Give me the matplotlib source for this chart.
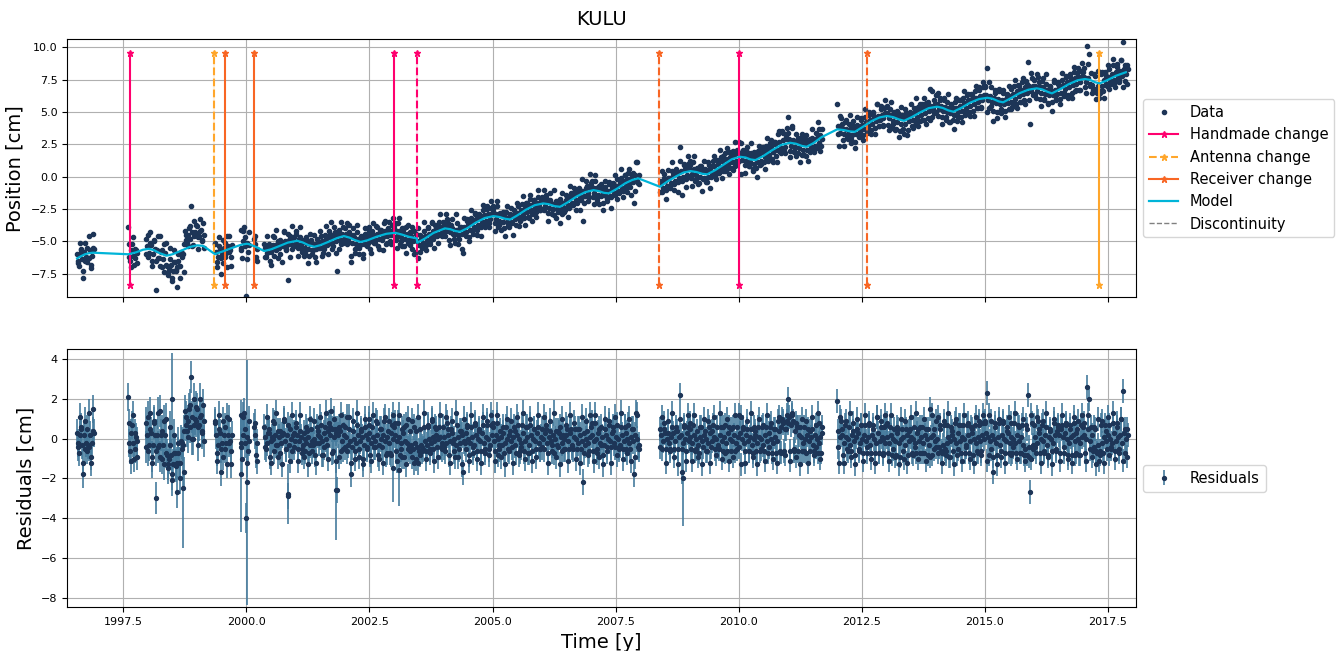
import matplotlib.pyplot as plt
import numpy as np

# KULU station: position time series, model and residuals

# Observation segments (first epoch of each block). Three interleaved sets of
# epochs are used, every 0.04 y, shifted by 0.00, 0.02 and 0.01 y.
seg_start = [1996.56, 1997.60, 1997.96, 1999.36, 1999.88, 2000.16, 2000.36, 2008.40, 2012.00]
step = 0.04
shift_b = 0.02
shift_c = 0.01

# Position [cm]
pos_s1 = [-6.0, -6.9, -5.6, -7.8, -6.5, -5.5, -6.3, -7.1, -4.4]
pos_s2 = [-3.9, -6.5, -5.2, -6.8, -5.7]
pos_s3 = [-4.8, -6.2, -4.3, -6.5, -5.0, -8.8, -6.3, -4.6, -7.0, -5.2, -6.8, -7.4, -5.5, -7.8, -6.6,
          -7.2, -8.5, -6.9, -5.8, -6.0, -4.2, -5.1, -4.0, -2.3, -5.3, -4.3, -3.8, -4.6, -4.1, -3.6]
pos_s4 = [-5.1, -6.6, -5.4, -7.5, -4.9, -6.2, -4.6, -5.8, -6.9]
pos_s5 = [-4.1, -6.3, -3.9, -9.2, -5.8]
pos_s6 = [-4.8, -6.2]
pos_s7 = [-5.2, -6.2, -5.4, -6.5, -5.4, -4.7, -5.7, -5.0, -6.0, -5.1, -4.3, -5.6, -8.0, -4.6, -5.6, -4.7,
          -4.4, -5.5, -4.7, -5.8, -4.9, -5.9, -5.0, -6.1, -4.9, -5.7, -6.2, -4.8, -5.5, -4.6, -5.9, -4.5, -5.3, -4.2, -3.5, -5.4, -4.3, -7.3, -4.1, -5.2, -3.9,
          -4.0, -5.2, -3.7, -6.6, -4.5, -5.9, -4.3, -5.5, -4.6, -6.0, -4.4, -5.3, -3.9, -5.6, -4.2, -5.1, -3.8, -5.4, -4.1, -4.9, -3.6, -5.2, -4.0, -5.0, -3.7,
          -3.8, -4.9, -3.6, -5.2, -4.0, -5.4, -3.9, -5.1, -4.3, -5.6, -4.2, -5.8, -6.3, -4.5, -5.5, -4.2, -5.3, -3.9, -5.0, -3.6, -4.8, -3.7, -4.6, -3.5, -4.4,
          -3.5, -4.6, -3.3, -4.9, -3.7, -4.4, -5.1, -3.6, -4.8, -3.9, -5.9, -4.3, -3.4, -4.7, -3.2, -4.4, -2.9, -4.1, -3.0, -3.9, -2.6, -3.7, -2.5, -3.6, -2.4,
          -2.5, -3.6, -2.3, -3.9, -2.8, -3.5, -4.0, -2.7, -3.8, -2.9, -3.6, -2.6, -3.7, -2.3, -3.4, -2.1, -3.2, -2.0, -3.1, -1.7, -2.9, -1.8, -2.7, -1.6, -2.6,
          -1.6, -2.6, -1.4, -2.8, -1.8, -2.5, -3.0, -1.9, -2.7, -1.7, -2.9, -2.0, -2.6, -1.5, -2.4, -1.3, -2.2, -1.1, -2.0, -0.9, -1.8, -3.4, -1.5, -0.7, -1.6,
          -0.5, -1.6, -0.3, -1.8, -0.7, -1.5, -2.0, -0.8, -1.7, -0.6, -1.6, -0.5, -1.4, -0.2, -1.3, -0.1, -1.1, 0.1, -0.9, 0.3, -0.8, 0.2, -2.0, 1.1, -0.5]
pos_s8 = [-0.3, -1.2, 0.2, -1.0, -0.1, -0.8, 0.4, -0.6, 0.6, -0.4, 2.3, -1.4, 0.9, -0.2, 1.0,
          0.9, -0.1, 1.1, -0.3, 0.7, -0.5, 0.8, -0.2, 0.6, -0.4, 0.9, 0.0, 1.2, 0.1, 1.3, 0.3, 1.5, 0.4, 1.8, 0.6, 1.9, 0.7, 2.0, 0.8, 2.1,
          2.7, 0.2, 2.1, 0.9, 1.9, 0.8, 1.8, 0.6, 1.9, 0.7, 2.0, 0.9, 2.2, 1.1, 2.4, 1.2, 2.6, 1.4, 2.7, 1.6, 3.3, 1.9, 3.5, 2.0, 3.1,
          4.6, 2.0, 3.9, 1.9, 3.3, 1.8, 3.0, 1.7, 2.9, 1.6, 2.8, 1.9, 3.0, 2.1, 3.4, 2.2, 3.7, 2.4]
pos_s9 = [5.6, 2.4, 4.5, 2.8, 4.2, 3.0, 4.1, 2.9, 4.3, 2.7, 4.0, 3.1, 4.4, 3.2, 4.6, 3.4, 4.8, 3.6, 5.0, 3.8, 5.6, 3.9, 5.2, 4.0, 5.3,
          5.4, 4.0, 5.2, 3.8, 5.0, 3.7, 4.9, 3.5, 4.8, 3.3, 4.9, 3.6, 5.0, 3.9, 5.3, 4.1, 5.4, 4.3, 5.6, 4.4, 5.7, 4.5, 6.8, 4.6, 5.9,
          6.3, 4.7, 6.1, 4.6, 5.9, 4.4, 5.8, 4.2, 5.6, 4.4, 5.8, 4.3, 5.9, 4.6, 6.1, 4.8, 6.3, 5.0, 6.4, 5.1, 6.6, 5.3, 6.7, 5.4, 6.9,
          7.0, 8.4, 5.3, 6.9, 4.3, 6.7, 5.0, 6.6, 4.9, 6.5, 5.1, 6.4, 5.2, 6.8, 5.4, 7.0, 5.6, 7.1, 5.8, 7.3, 5.9, 7.4, 8.9, 4.1, 7.6,
          7.5, 6.1, 7.7, 6.0, 7.4, 5.9, 7.2, 5.7, 7.0, 5.8, 7.3, 5.9, 7.2, 6.0, 7.5, 6.2, 7.7, 6.3, 7.9, 6.5, 8.1, 6.6, 8.0, 6.7, 8.2,
          8.1, 6.9, 10.1, 9.5, 8.0, 6.7, 7.8, 6.5, 6.1, 7.9, 6.6, 8.1, 7.0, 8.3, 7.2, 8.6, 7.3, 8.7, 7.5, 9.0, 10.4, 7.4, 8.6]

pos_s1b = [-6.5, -6.0, -6.4, -5.8, -6.2, -6.3, -5.7, -6.1, -5.6]
pos_s2b = [-6.2, -5.7, -6.1, -5.6, -5.9]
pos_s3b = [-5.4, -5.9, -5.3, -6.0, -5.6, -5.7, -6.3, -5.8, -6.4, -5.9, -6.9, -7.1, -6.8, -7.3, -6.6,
           -7.0, -6.5, -6.9, -5.9, -5.2, -4.9, -4.5, -4.8, -4.3, -4.6, -4.4, -4.7, -4.2, -4.9, -4.5]
pos_s4b = [-5.8, -6.2, -5.6, -6.0, -5.5, -5.9, -5.4, -5.7, -5.3]
pos_s5b = [-5.5, -5.0, -5.4, -5.1, -5.3]
pos_s6b = [-5.2, -5.6]
pos_s7b = [-5.5, -5.9, -5.4, -5.8, -5.3, -5.6, -5.2, -5.5, -5.1, -5.4, -5.0, -5.3, -4.9, -5.2, -4.8, -5.2,
           -5.2, -4.8, -5.3, -5.0, -5.5, -5.1, -5.6, -5.2, -5.7, -5.2, -5.6, -5.1, -5.5, -5.0, -5.4, -4.8, -5.2, -4.7, -5.1, -4.6, -5.0, -4.5, -4.9, -4.4, -4.8,
           -4.4, -4.9, -4.6, -5.1, -4.7, -5.2, -4.8, -5.3, -4.8, -5.2, -4.7, -5.1, -4.6, -5.0, -4.5, -4.9, -4.4, -4.8, -4.3, -4.7, -4.2, -4.6, -4.2, -4.5, -4.1,
           -4.1, -4.6, -4.2, -4.7, -4.3, -4.8, -4.4, -4.9, -4.6, -5.0, -4.9, -5.0, -5.3, -4.8, -5.1, -4.6, -4.9, -4.4, -4.7, -4.2, -4.5, -4.0, -4.4, -3.9, -4.2,
           -3.8, -4.2, -3.9, -4.3, -4.0, -4.4, -4.1, -4.5, -4.0, -4.4, -3.9, -4.3, -3.7, -4.1, -3.5, -3.9, -3.3, -3.7, -3.2, -3.5, -3.0, -3.4, -2.9, -3.3, -2.8,
           -2.8, -3.3, -2.9, -3.4, -3.0, -3.5, -3.1, -3.5, -3.1, -3.5, -3.0, -3.3, -2.8, -3.1, -2.6, -2.9, -2.4, -2.7, -2.2, -2.6, -2.1, -2.4, -2.0, -2.3, -1.9,
           -1.9, -2.3, -1.9, -2.4, -2.0, -2.5, -2.1, -2.5, -2.1, -2.5, -2.0, -2.4, -1.8, -2.2, -1.6, -2.0, -1.4, -1.8, -1.2, -1.6, -1.1, -1.5, -0.9, -1.3, -0.8,
           -0.8, -1.3, -0.9, -1.4, -0.9, -1.4, -1.0, -1.5, -1.1, -1.5, -0.9, -1.3, -0.7, -1.1, -0.5, -0.9, -0.3, -0.7, -0.2, -0.6, -0.1, -0.4, 0.1, -0.3, 0.1]
pos_s8b = [-0.5, -0.9, -0.3, -0.7, -0.1, -0.5, 0.1, -0.3, 0.3, -0.1, 0.4, 0.0, 0.6, 0.1, 0.7,
           0.6, 0.2, 0.6, 0.1, 0.5, 0.0, 0.4, -0.1, 0.4, 0.0, 0.6, 0.2, 0.8, 0.4, 1.0, 0.6, 1.2, 0.8, 1.4, 1.0, 1.5, 1.1, 1.7, 1.2, 1.8,
           1.8, 1.3, 1.7, 1.2, 1.6, 1.1, 1.5, 1.0, 1.5, 1.1, 1.7, 1.2, 1.9, 1.5, 2.1, 1.7, 2.3, 1.9, 2.5, 2.1, 2.7, 2.2, 2.8, 2.3, 2.9,
           2.9, 2.4, 2.8, 2.3, 2.7, 2.2, 2.6, 2.1, 2.5, 2.1, 2.6, 2.3, 2.8, 2.4, 3.0, 2.6, 3.2, 2.9]
pos_s9b = [3.9, 3.4, 3.8, 3.3, 3.7, 3.3, 3.7, 3.2, 3.7, 3.3, 3.8, 3.5, 4.0, 3.7, 4.2, 3.9, 4.4, 4.1, 4.6, 4.3, 4.7, 4.4, 4.8, 4.5, 4.9,
           4.9, 4.5, 4.8, 4.3, 4.7, 4.2, 4.6, 4.1, 4.5, 4.1, 4.6, 4.3, 4.8, 4.4, 5.0, 4.6, 5.2, 4.8, 5.3, 4.9, 5.4, 5.1, 5.5, 5.2, 5.6,
           5.6, 5.2, 5.5, 5.1, 5.4, 5.0, 5.3, 4.9, 5.2, 4.8, 5.3, 5.0, 5.5, 5.1, 5.7, 5.3, 5.9, 5.5, 6.0, 5.6, 6.1, 5.8, 6.2, 5.9, 6.3,
           6.3, 5.9, 6.2, 5.8, 6.1, 5.7, 6.0, 5.6, 5.9, 5.6, 6.0, 5.7, 6.2, 5.8, 6.4, 6.0, 6.6, 6.2, 6.7, 6.4, 6.9, 6.5, 7.0, 6.6, 7.0,
           7.0, 6.6, 7.0, 6.5, 6.9, 6.4, 6.7, 6.3, 6.6, 6.3, 6.7, 6.4, 6.9, 6.5, 7.1, 6.8, 7.3, 6.9, 7.4, 7.1, 7.6, 7.2, 7.7, 7.3, 7.8,
           7.7, 7.3, 7.6, 7.2, 7.1, 6.8, 6.6, 7.0, 6.5, 7.0, 7.5, 7.2, 7.7, 7.4, 7.9, 7.5, 8.1, 7.7, 8.2, 7.8, 8.3, 7.9, 8.3]

pos_s1c = [-6.7, -5.1, -5.7, -7.3, -5.1, -6.6, -4.6, -6.8, -5.5]
pos_s2c = [-5.2, -7.0, -4.7, -6.3, -6.7]
pos_s3c = [-6.0, -4.5, -5.1, -6.9, -4.9, -6.5, -4.6, -6.9, -5.7, -7.4, -5.1, -7.6, -6.4, -8.1, -5.7,
           -7.3, -6.0, -7.8, -6.2, -7.4, -4.5, -5.4, -3.8, -5.4, -3.4, -3.7, -5.6, -3.3, -5.0, -5.5]
pos_s4c = [-5.2, -7.0, -4.7, -6.3, -6.7, -5.1, -7.0, -4.6, -6.2]
pos_s5c = [-5.7, -4.2, -4.7, -6.4, -4.3]
pos_s6c = [-4.6, -6.5]
pos_s7c = [-6.2, -4.6, -5.2, -6.8, -4.6, -6.1, -4.1, -6.3, -4.9, -6.6, -4.2, -5.7, -4.4, -6.2, -3.8, -5.4,
           -4.2, -6.1, -3.9, -5.7, -6.1, -4.7, -6.7, -4.4, -6.0, -4.5, -6.6, -5.0, -4.2, -6.1, -5.6, -3.8, -6.0, -4.4, -5.6, -3.9, -5.9, -4.3, -5.6, -3.5, -5.1,
           -5.0, -3.6, -4.3, -6.1, -4.0, -5.6, -3.7, -6.0, -4.7, -6.3, -4.0, -5.4, -4.2, -5.9, -3.6, -5.1, -3.9, -5.6, -4.1, -5.7, -3.4, -5.1, -3.5, -5.2, -3.2,
           -3.6, -5.5, -3.2, -5.0, -5.4, -4.0, -5.9, -3.7, -5.3, -3.9, -6.0, -4.4, -4.0, -5.8, -5.3, -3.5, -5.7, -4.0, -5.2, -3.5, -5.5, -3.8, -5.1, -2.9, -4.6,
           -4.5, -2.9, -3.6, -5.3, -3.3, -4.8, -2.9, -5.2, -3.9, -5.6, -3.2, -4.6, -3.3, -5.0, -2.6, -4.1, -2.8, -4.5, -2.9, -4.6, -2.2, -3.9, -2.3, -3.9, -1.9,
           -2.3, -4.2, -1.9, -3.7, -4.1, -2.7, -4.6, -2.3, -3.9, -2.4, -4.5, -2.8, -2.0, -3.8, -3.3, -1.5, -3.7, -2.0, -3.2, -1.4, -3.4, -1.8, -3.1, -1.0, -2.6,
           -2.5, -1.0, -1.6, -3.4, -1.3, -2.9, -1.0, -3.2, -1.9, -3.6, -1.3, -2.7, -1.4, -3.1, -0.7, -2.2, -0.9, -2.6, -1.0, -2.6, -0.2, -2.0, -0.3, -1.9, 0.2,
           -0.3, -2.1, 0.1, -1.6, -2.1, -0.6, -2.6, -0.3, -1.9, -0.4, -2.4, -0.7, 0.1, -1.7, -1.2, 0.6, -1.6, 0.1, -1.2, 0.6, -1.4, 0.3, -1.1, 1.1, -0.6]
pos_s8c = [-1.2, 0.4, -0.1, -1.7, 0.5, -0.9, 1.1, -1.0, 0.4, -1.2, 1.2, -0.3, 1.0, -0.8, 1.6,
           1.2, -0.7, 1.6, -0.2, -0.6, 0.8, -1.1, 1.2, -0.4, 1.1, -0.9, 0.8, 1.6, -0.2, 0.3, 2.1, -0.1, 1.6, 0.4, 2.2, 0.2, 1.9, 0.5, 2.7, 1.0,
           1.2, 2.6, 2.0, 0.3, 2.3, 0.8, 2.6, 0.4, 1.7, 0.0, 2.4, 1.0, 2.3, 0.6, 3.0, 1.5, 2.8, 1.1, 2.7, 1.1, 3.5, 1.8, 3.4, 1.8, 3.8,
           3.4, 1.5, 3.8, 2.0, 1.6, 3.0, 1.1, 3.3, 1.7, 3.2, 1.2, 2.9, 3.7, 1.9, 2.4, 4.2, 2.0, 3.7]
pos_s9c = [3.3, 4.7, 4.1, 2.4, 4.4, 2.9, 4.8, 2.6, 3.9, 2.2, 4.6, 3.2, 4.5, 2.8, 5.2, 3.7, 5.0, 3.3, 4.9, 3.3, 5.6, 3.9, 5.5, 3.9, 5.9,
           5.5, 3.6, 5.8, 4.1, 3.6, 5.1, 3.1, 5.4, 3.7, 5.2, 3.2, 4.8, 5.6, 3.8, 4.3, 6.1, 3.9, 5.6, 4.4, 6.1, 4.1, 5.8, 4.4, 6.6, 4.9,
           5.0, 6.5, 5.9, 4.1, 6.1, 4.6, 6.4, 4.2, 5.4, 3.7, 6.1, 4.6, 5.9, 4.2, 6.6, 5.1, 6.4, 4.7, 6.3, 4.7, 7.0, 5.3, 6.9, 5.3, 7.3,
           6.9, 5.0, 7.3, 5.5, 5.1, 6.5, 4.5, 6.8, 5.2, 6.7, 4.6, 6.3, 7.0, 5.2, 5.7, 7.5, 5.3, 7.0, 5.8, 7.6, 5.6, 7.2, 5.9, 8.0, 6.3,
           6.4, 7.9, 7.3, 5.5, 7.6, 6.0, 7.9, 5.6, 6.9, 5.1, 7.5, 6.0, 7.3, 5.6, 8.0, 6.5, 7.8, 6.1, 7.7, 6.1, 8.5, 6.7, 8.4, 6.7, 8.8,
           8.4, 6.5, 8.7, 7.0, 6.5, 7.9, 6.0, 8.2, 6.6, 8.1, 6.1, 7.8, 8.6, 6.8, 7.3, 9.1, 6.9, 8.5, 7.3, 9.0, 6.9, 8.6, 7.2]

# Residuals [cm]
res_s1 = [0.3, -0.7, 0.6, -1.8, -0.5, 0.5, -0.4, -1.2, 1.5]
res_s2 = [2.1, -0.6, 0.7, -1.0, 0.1]
res_s3 = [0.8, -0.6, 1.3, -0.9, 0.8, -3.0, -0.4, 1.4, -1.0, 0.9, -0.7, -1.3, 0.6, -1.8, -0.7,
          -1.3, -2.7, -1.2, -0.1, -0.3, 1.4, 0.4, 1.5, 3.1, 0.0, 1.0, 1.5, 0.7, 1.2, 1.7]
res_s4 = [0.9, -0.7, 0.5, -1.7, 0.9, -0.5, 1.1, -0.2, -1.3]
res_s5 = [1.2, -1.0, 1.3, -4.0, -0.6]
res_s6 = [0.6, -0.8]
res_s7 = [0.6, -0.5, 0.3, -0.9, 0.1, 0.8, -0.3, 0.4, -0.7, 0.2, 0.9, -0.5, -2.9, 0.5, -0.6, 0.3,
          0.6, -0.5, 0.4, -0.7, 0.3, -0.6, 0.4, -0.7, 0.5, -0.3, -0.8, 0.6, -0.2, 0.7, -0.8, 0.6, -0.3, 0.8, 1.4, -0.6, 0.5, -2.6, 0.6, -0.6, 0.7,
          0.6, -0.6, 1.1, -1.8, 0.4, -1.0, 0.7, -0.5, 0.5, -1.0, 0.6, -0.4, 1.0, -0.8, 0.6, -0.4, 0.9, -0.8, 0.5, -0.4, 0.9, -0.8, 0.4, -0.7, 0.7,
          0.6, -0.6, 0.8, -0.8, 0.5, -0.9, 0.7, -0.5, 0.4, -0.9, 0.6, -1.0, -1.2, 0.5, -0.6, 0.6, -0.6, 0.7, -0.5, 0.9, -0.5, 0.6, -0.4, 0.6, -0.4,
          0.6, -0.6, 0.8, -0.8, 0.5, -0.2, -0.9, 0.7, -0.5, 0.4, -1.7, -0.2, 0.6, -0.8, 0.6, -0.7, 0.7, -0.6, 0.4, -0.6, 0.7, -0.5, 0.7, -0.5, 0.7,
          0.6, -0.6, 0.8, -0.8, 0.4, -0.3, -0.7, 0.6, -0.5, 0.4, -0.4, 0.6, -0.7, 0.7, -0.6, 0.7, -0.6, 0.6, -0.7, 0.7, -0.6, 0.5, -0.5, 0.6, -0.5,
          0.5, -0.5, 0.7, -0.7, 0.4, -0.3, -0.7, 0.4, -0.4, 0.6, -0.6, 0.2, -0.5, 0.5, -0.5, 0.5, -0.5, 0.5, -0.5, 0.5, -0.5, -2.2, -0.3, 0.4, -0.6,
          0.6, -0.6, 0.8, -0.7, 0.5, -0.3, -0.8, 0.5, -0.4, 0.7, -0.4, 0.6, -0.4, 0.7, -0.5, 0.6, -0.5, 0.6, -0.5, 0.7, -0.5, 0.5, -1.8, 1.3, -0.4]
res_s8 = [0.5, -0.5, 0.8, -0.5, 0.3, -0.5, 0.6, -0.5, 0.6, -0.5, 2.2, -1.7, 0.6, -0.6, 0.6,
          0.5, -0.5, 0.7, -0.6, 0.4, -0.7, 0.6, -0.4, 0.4, -0.6, 0.6, -0.4, 0.7, -0.5, 0.6, -0.5, 0.6, -0.6, 0.7, -0.6, 0.6, -0.6, 0.6, -0.6, 0.6,
          1.2, -1.3, 0.6, -0.6, 0.5, -0.6, 0.5, -0.7, 0.6, -0.6, 0.6, -0.6, 0.6, -0.6, 0.6, -0.7, 0.6, -0.7, 0.5, -0.7, 0.9, -0.6, 1.0, -0.6, 0.5,
          2.0, -0.6, 1.3, -0.6, 0.8, -0.6, 0.6, -0.6, 0.6, -0.7, 0.5, -0.6, 0.5, -0.6, 0.7, -0.7, 0.8, -0.7]
res_s9 = [1.9, -1.2, 0.9, -0.8, 0.7, -0.5, 0.6, -0.6, 0.8, -0.8, 0.5, -0.6, 0.7, -0.7, 0.7, -0.7, 0.7, -0.7, 0.7, -0.7, 1.1, -0.7, 0.6, -0.7, 0.6,
          0.7, -0.7, 0.6, -0.8, 0.5, -0.8, 0.5, -0.9, 0.5, -1.0, 0.5, -0.8, 0.5, -0.7, 0.6, -0.7, 0.5, -0.7, 0.6, -0.7, 0.5, -0.8, 1.5, -0.8, 0.5,
          0.9, -0.7, 0.7, -0.7, 0.7, -0.8, 0.7, -0.9, 0.6, -0.6, 0.8, -0.8, 0.7, -0.7, 0.7, -0.7, 0.7, -0.7, 0.6, -0.8, 0.7, -0.6, 0.7, -0.6, 0.8,
          0.9, 2.3, -0.8, 0.9, -1.7, 0.8, -0.8, 0.8, -0.9, 0.8, -0.7, 0.6, -0.7, 0.8, -0.7, 0.8, -0.7, 0.7, -0.7, 0.7, -0.8, 0.7, 2.2, -2.7, 0.8,
          0.7, -0.7, 0.9, -0.7, 0.7, -0.7, 0.6, -0.8, 0.5, -0.6, 0.8, -0.6, 0.6, -0.7, 0.7, -0.7, 0.7, -0.8, 0.7, -0.8, 0.8, -0.8, 0.5, -0.8, 0.7,
          0.6, -0.7, 2.6, 2.0, 0.6, -0.6, 0.5, -0.7, -1.1, 0.7, -0.7, 0.7, -0.5, 0.7, -0.5, 0.8, -0.6, 0.8, -0.5, 1.0, 2.4, -0.7, 0.5]

res_s1b = [-0.2, 0.2, -0.3, 0.2, -0.2, -0.3, 0.2, -0.2, 0.3]
res_s2b = [-0.2, 0.3, -0.2, 0.3, -0.1]
res_s3b = [0.2, -0.3, 0.3, -0.3, 0.2, 0.2, -0.3, 0.2, -0.3, 0.2, -0.8, -1.0, -0.8, -1.3, -0.7,
           -1.2, -0.7, -1.2, -0.2, 0.4, 0.7, 0.9, 0.6, 1.1, 0.7, 0.9, 0.6, 1.1, 0.4, 0.9]
res_s4b = [0.2, -0.3, 0.3, -0.2, 0.2, -0.2, 0.2, -0.1, 0.2]
res_s5b = [-0.2, 0.2, -0.2, 0.1, -0.1]
res_s6b = [0.2, -0.2]
res_s7b = [0.1, -0.2, 0.3, -0.1, 0.0, 0.2, -0.3, 0.1, -0.2, 0.3, -0.1, 0.2, -0.3, 0.0, 0.2, -0.1,
           0.2, -0.1, 0.1, -0.3, 0.0, -0.2, 0.1, -0.3, -0.1, 0.0, -0.2, 0.2, 0.1, -0.1, 0.3, 0.0, 0.4, 0.2, 0.5, 0.1, 0.3, 0.2, 0.4, -0.1, 0.2,
           0.1, -0.3, -0.1, -0.4, 0.0, -0.2, 0.2, -0.1, 0.1, -0.3, 0.2, 0.0, 0.3, -0.2, 0.1, -0.1, 0.2, -0.3, 0.0, 0.2, -0.1, 0.1, -0.2, 0.3, 0.0,
           0.2, -0.1, 0.1, -0.2, 0.3, -0.1, -0.2, -0.4, -0.3, -0.5, -0.2, -0.4, -0.6, -0.3, -0.5, -0.1, -0.3, 0.0, -0.2, 0.1, -0.1, 0.2, 0.0, 0.1, -0.2,
           0.1, -0.2, 0.2, -0.1, 0.3, 0.0, -0.3, 0.1, -0.2, 0.2, -0.1, 0.3, 0.0, -0.2, 0.1, -0.3, 0.2, 0.0, -0.1, 0.3, -0.2, 0.1, 0.0, -0.3, 0.2,
           -0.1, 0.2, 0.0, -0.3, 0.1, 0.3, -0.2, 0.0, 0.2, -0.1, 0.1, -0.3, 0.2, 0.0, -0.2, 0.3, -0.1, 0.1, -0.3, 0.2, 0.0, -0.1, 0.3, -0.2, 0.1,
           0.0, 0.3, -0.2, 0.1, -0.1, 0.2, 0.0, -0.3, 0.3, 0.1, -0.2, 0.0, 0.2, -0.1, 0.3, -0.3, 0.1, 0.0, -0.2, 0.2, -0.1, 0.3, 0.0, -0.2, 0.1,
           0.2, -0.1, 0.0, 0.3, -0.2, 0.1, -0.3, 0.2, 0.0, -0.1, 0.3, -0.2, 0.1, 0.0, -0.3, 0.2, -0.1, 0.3, 0.0, -0.2, 0.1, -0.1, 0.2, 0.0, -0.3]
res_s8b = [0.2, -0.1, 0.3, 0.0, -0.2, 0.1, 0.3, -0.1, 0.4, 0.1, 0.2, -0.2, 0.0, 0.3, -0.1,
           0.1, -0.2, 0.2, 0.0, -0.3, 0.1, -0.1, 0.2, 0.0, -0.2, 0.3, -0.1, 0.1, 0.0, -0.3, 0.2, -0.1, 0.1, -0.2, 0.3, 0.0, -0.1, 0.2, -0.2, 0.1,
           0.3, 0.0, -0.2, 0.2, -0.1, 0.1, -0.3, 0.0, 0.2, -0.2, 0.1, 0.0, -0.3, 0.2, -0.1, 0.3, 0.0, -0.2, 0.1, -0.1, 0.4, 0.6, 0.8, 0.5, 0.9,
           1.1, 0.7, 0.9, 0.4, 0.6, 0.2, 0.1, -0.2, 0.0, 0.2, -0.1, 0.1, -0.3, 0.2, 0.0, -0.2, 0.1, 0.3]
res_s9b = [0.4, 0.1, 0.2, -0.2, 0.1, 0.0, -0.3, 0.2, -0.1, 0.1, 0.3, -0.2, 0.0, 0.2, -0.1, 0.1, -0.3, 0.2, 0.0, -0.2, 0.3, -0.1, 0.1, 0.0, -0.2,
           0.1, -0.2, 0.2, 0.0, -0.1, 0.3, -0.2, 0.0, 0.1, -0.3, 0.2, -0.1, 0.1, 0.0, -0.2, 0.3, -0.1, 0.1, -0.2, 0.2, 0.0, -0.3, 0.1, 0.2, -0.1,
           0.0, -0.4, -0.6, -0.3, -0.5, -0.2, 0.1, -0.1, 0.2, 0.0, -0.2, 0.3, -0.1, 0.1, 0.0, -0.3, 0.2, -0.1, 0.3, 0.0, -0.2, 0.1, -0.1, 0.2, 0.0,
           0.3, 0.1, -0.1, 0.2, 0.0, -0.2, 0.1, -0.3, 0.2, 0.0, -0.1, 0.3, -0.2, 0.1, 0.0, -0.2, 0.2, -0.1, 0.1, -0.3, -0.5, -0.8, -0.4, -1.0, -0.3,
           0.1, -0.2, 0.3, 0.0, -0.1, 0.2, -0.3, 0.1, 0.0, -0.2, 0.2, 0.4, 0.2, 0.5, 0.1, 0.3, 0.0, -0.2, 0.1, 0.2, -0.1, 0.3, 0.0, -0.2, 0.1,
           0.2, 0.0, 0.5, -0.1, 0.2, -0.4, -0.6, -0.3, -0.8, -0.2, 0.1, -0.1, 0.2, 0.0, -0.2, 0.3, -0.1, 0.1, 0.2, -0.2, 0.3, 0.0, 0.2]

res_s1c = [-0.4, 1.1, 0.5, -1.2, 0.9, -0.6, 1.3, -0.9, 0.4]
res_s2c = [0.8, -1.1, 1.2, -0.5, -0.9]
res_s3c = [-0.4, 1.1, 0.5, -1.2, 0.9, -0.6, 1.3, -0.9, 0.4, -1.3, 1.0, -1.5, -0.3, -2.1, 0.2,
           -1.4, -0.2, -2.0, -0.5, -1.7, 1.1, 0.1, 1.7, 0.0, 2.0, 1.6, -0.3, 2.0, 0.3, -0.1]
res_s4c = [0.8, -1.1, 1.2, -0.5, -0.9, 0.6, -1.3, 1.0, -0.6]
res_s5c = [-0.4, 1.1, 0.5, -1.2, 0.9]
res_s6c = [0.8, -1.1]
res_s7c = [-0.4, 1.1, 0.5, -1.2, 0.9, -0.6, 1.3, -0.9, 0.4, -1.3, 1.0, -0.5, 0.7, -1.1, 1.2, -0.4,
           0.8, -1.1, 1.2, -0.5, -0.9, 0.6, -1.3, 1.0, -0.6, 0.9, -1.2, 0.4, 1.1, -0.8, -0.4, 1.3, -1.0, 0.6, -0.7, 1.0, -1.1, 0.5, -0.9, 1.2, -0.5,
           -0.4, 1.1, 0.5, -1.2, 0.9, -0.6, 1.3, -0.9, 0.4, -1.3, 1.0, -0.5, 0.7, -1.1, 1.2, -0.4, 0.8, -1.0, 0.5, -1.2, 1.1, -0.7, 0.9, -0.8, 1.2,
           0.8, -1.1, 1.2, -0.5, -0.9, 0.6, -1.3, 1.0, -0.6, 0.9, -1.2, 0.4, 1.1, -0.8, -0.4, 1.3, -1.0, 0.6, -0.7, 1.0, -1.1, 0.5, -0.9, 1.2, -0.5,
           -0.4, 1.1, 0.5, -1.2, 0.9, -0.6, 1.3, -0.9, 0.4, -1.3, 1.0, -0.5, 0.7, -1.1, 1.2, -0.4, 0.8, -1.0, 0.5, -1.2, 1.1, -0.7, 0.9, -0.8, 1.2,
           0.8, -1.1, 1.2, -0.5, -0.9, 0.6, -1.3, 1.0, -0.6, 0.9, -1.2, 0.4, 1.1, -0.8, -0.4, 1.3, -1.0, 0.6, -0.7, 1.0, -1.1, 0.5, -0.9, 1.2, -0.5,
           -0.4, 1.1, 0.5, -1.2, 0.9, -0.6, 1.3, -0.9, 0.4, -1.3, 1.0, -0.5, 0.7, -1.1, 1.2, -0.4, 0.8, -1.0, 0.5, -1.2, 1.1, -0.7, 0.9, -0.8, 1.2,
           0.8, -1.1, 1.2, -0.5, -0.9, 0.6, -1.3, 1.0, -0.6, 0.9, -1.2, 0.4, 1.1, -0.8, -0.4, 1.3, -1.0, 0.6, -0.7, 1.0, -1.1, 0.5, -0.9, 1.2, -0.5]
res_s8c = [-0.4, 1.1, 0.5, -1.2, 0.9, -0.6, 1.3, -0.9, 0.4, -1.3, 1.0, -0.5, 0.7, -1.1, 1.2,
           0.8, -1.1, 1.2, -0.5, -0.9, 0.6, -1.3, 1.0, -0.6, 0.9, -1.2, 0.4, 1.1, -0.8, -0.4, 1.3, -1.0, 0.6, -0.7, 1.0, -1.1, 0.5, -0.9, 1.2, -0.5,
           -0.4, 1.1, 0.5, -1.2, 0.9, -0.6, 1.3, -0.9, 0.4, -1.3, 1.0, -0.5, 0.7, -1.1, 1.2, -0.4, 0.8, -1.0, 0.5, -1.2, 1.1, -0.7, 0.9, -0.8, 1.2,
           0.8, -1.1, 1.2, -0.5, -0.9, 0.6, -1.3, 1.0, -0.6, 0.9, -1.2, 0.4, 1.1, -0.8, -0.4, 1.3, -1.0, 0.6]
res_s9c = [-0.4, 1.1, 0.5, -1.2, 0.9, -0.6, 1.3, -0.9, 0.4, -1.3, 1.0, -0.5, 0.7, -1.1, 1.2, -0.4, 0.8, -1.0, 0.5, -1.2, 1.1, -0.7, 0.9, -0.8, 1.2,
           0.8, -1.1, 1.2, -0.5, -0.9, 0.6, -1.3, 1.0, -0.6, 0.9, -1.2, 0.4, 1.1, -0.8, -0.4, 1.3, -1.0, 0.6, -0.7, 1.0, -1.1, 0.5, -0.9, 1.2, -0.5,
           -0.4, 1.1, 0.5, -1.2, 0.9, -0.6, 1.3, -0.9, 0.4, -1.3, 1.0, -0.5, 0.7, -1.1, 1.2, -0.4, 0.8, -1.0, 0.5, -1.2, 1.1, -0.7, 0.9, -0.8, 1.2,
           0.8, -1.1, 1.2, -0.5, -0.9, 0.6, -1.3, 1.0, -0.6, 0.9, -1.2, 0.4, 1.1, -0.8, -0.4, 1.3, -1.0, 0.6, -0.7, 1.0, -1.1, 0.5, -0.9, 1.2, -0.5,
           -0.4, 1.1, 0.5, -1.2, 0.9, -0.6, 1.3, -0.9, 0.4, -1.3, 1.0, -0.5, 0.7, -1.1, 1.2, -0.4, 0.8, -1.0, 0.5, -1.2, 1.1, -0.7, 0.9, -0.8, 1.2,
           0.8, -1.1, 1.2, -0.5, -0.9, 0.6, -1.3, 1.0, -0.6, 0.9, -1.2, 0.4, 1.1, -0.8, -0.4, 1.3, -1.0, 0.6, -0.7, 1.0, -1.1, 0.5, -0.9]

# Formal error of the residuals in each segment [cm]
err_seg = [0.7, 0.7, 0.8, 0.7, 0.75, 0.7, 0.65, 0.6, 0.6]

# Epochs with very large error bars
wide_t = [1998.48, 1998.72, 1999.88, 2000.02, 2000.84, 2001.82, 2002.97, 2003.09, 2008.87]
wide_res = [2.0, -2.5, -1.8, -2.2, -2.8, -2.6, -1.5, -1.6, -2.0]
wide_err = [2.3, 3.0, 2.9, 6.15, 1.5, 2.5, 1.7, 1.8, 2.4]

# Fitted model (trend + seasonal + jumps)
model_t = [1996.56, 1996.64, 1996.72, 1996.80, 1996.88,
           1997.60, 1997.76, 1997.90, 1998.02, 1998.12, 1998.24, 1998.38, 1998.50, 1998.66, 1998.84, 1999.00, 1999.12,
           1999.36, 1999.52, 1999.68, 1999.88, 2000.00, 2000.04, 2000.16, 2000.22,
           2000.36, 2000.50, 2000.66, 2000.84, 2001.03, 2001.14, 2001.26, 2001.38, 2001.50, 2001.66, 2001.84,
           2001.98, 2002.10, 2002.20, 2002.32, 2002.46, 2002.64, 2002.84, 2003.02, 2003.16, 2003.30, 2003.46,
           2003.47, 2003.62, 2003.80, 2004.03, 2004.14, 2004.24, 2004.34, 2004.48, 2004.66, 2004.84,
           2005.02, 2005.14, 2005.26, 2005.36, 2005.50, 2005.68, 2005.86, 2006.03, 2006.14, 2006.26, 2006.37,
           2006.52, 2006.70, 2006.88, 2007.05, 2007.16, 2007.26, 2007.36, 2007.52, 2007.70, 2007.84, 2007.96,
           2008.40, 2008.56, 2008.74, 2008.88, 2009.02, 2009.14, 2009.26, 2009.36, 2009.52, 2009.70, 2009.86,
           2010.02, 2010.14, 2010.24, 2010.34, 2010.50, 2010.68, 2010.86, 2011.04, 2011.16, 2011.28, 2011.38,
           2011.52, 2011.68,
           2012.00, 2012.14, 2012.26, 2012.36, 2012.52, 2012.70, 2012.86, 2013.01, 2013.14, 2013.26, 2013.36,
           2013.52, 2013.70, 2013.86, 2014.03, 2014.14, 2014.26, 2014.36, 2014.52, 2014.70, 2014.88, 2015.05,
           2015.16, 2015.28, 2015.37, 2015.52, 2015.70, 2015.88, 2016.05, 2016.16, 2016.28, 2016.36, 2016.52,
           2016.70, 2016.88, 2017.03, 2017.14, 2017.24, 2017.33, 2017.48, 2017.66, 2017.86]
model_v = [-6.32, -6.15, -6.00, -5.92, -5.88,
           -6.00, -5.85, -5.65, -5.58, -5.68, -5.92, -6.11, -6.00, -5.75, -5.45, -5.31, -5.35,
           -5.99, -5.78, -5.55, -5.28, -5.19, -5.20, -5.38, -5.48,
           -5.75, -5.62, -5.38, -5.10, -4.96, -5.08, -5.30, -5.42, -5.30, -5.05, -4.75,
           -4.59, -4.72, -4.90, -5.05, -4.92, -4.65, -4.42, -4.34, -4.48, -4.65, -4.77,
           -5.11, -4.80, -4.35, -4.00, -4.06, -4.20, -4.26, -4.00, -3.55, -3.20,
           -3.05, -3.12, -3.26, -3.31, -3.00, -2.55, -2.20, -2.07, -2.13, -2.28, -2.33,
           -2.00, -1.55, -1.20, -1.04, -1.12, -1.25, -1.29, -0.95, -0.50, -0.25, -0.13,
           -0.78, -0.35, 0.05, 0.32, 0.43, 0.36, 0.22, 0.18, 0.50, 0.95, 1.35,
           1.54, 1.48, 1.33, 1.28, 1.60, 2.05, 2.45, 2.62, 2.55, 2.38, 2.31,
           2.60, 3.05,
           3.66, 3.60, 3.50, 3.47, 3.85, 4.30, 4.58, 4.69, 4.60, 4.42, 4.32,
           4.62, 5.00, 5.30, 5.41, 5.32, 5.12, 5.02, 5.32, 5.72, 6.00, 6.10,
           6.02, 5.82, 5.75, 6.05, 6.45, 6.72, 6.83, 6.75, 6.55, 6.44, 6.75,
           7.15, 7.45, 7.55, 7.48, 7.30, 7.21, 7.45, 7.80, 8.07]

# Equipment changes [y]
hand_t = [1997.63, 2002.99, 2003.47, 2010.00]
ant_t = [1999.35, 2017.32]
rec_t = [1999.56, 2000.15, 2008.39, 2012.60]
change_lo, change_hi = -8.4, 9.6

hand_ls = ['-', '-', '--', '-']
ant_ls = ['--', '-']
rec_ls = ['-', '-', '--', '--']


def epochs(lists, shift):
    return np.concatenate([s + shift + step * np.arange(len(v)) for s, v in zip(seg_start, lists)])


pos_a = [pos_s1, pos_s2, pos_s3, pos_s4, pos_s5, pos_s6, pos_s7, pos_s8, pos_s9]
pos_b = [pos_s1b, pos_s2b, pos_s3b, pos_s4b, pos_s5b, pos_s6b, pos_s7b, pos_s8b, pos_s9b]
pos_c = [pos_s1c, pos_s2c, pos_s3c, pos_s4c, pos_s5c, pos_s6c, pos_s7c, pos_s8c, pos_s9c]
res_a = [res_s1, res_s2, res_s3, res_s4, res_s5, res_s6, res_s7, res_s8, res_s9]
res_b = [res_s1b, res_s2b, res_s3b, res_s4b, res_s5b, res_s6b, res_s7b, res_s8b, res_s9b]
res_c = [res_s1c, res_s2c, res_s3c, res_s4c, res_s5c, res_s6c, res_s7c, res_s8c, res_s9c]

t_pos = np.concatenate([epochs(pos_a, 0.0), epochs(pos_b, shift_b), epochs(pos_c, shift_c)])
pos = np.concatenate(pos_a + pos_b + pos_c)
t_res = np.concatenate([epochs(res_a, 0.0), epochs(res_b, shift_b), epochs(res_c, shift_c)])
res = np.concatenate(res_a + res_b + res_c)
err = np.concatenate([np.full(len(r), e) for r, e in zip(res_a + res_b + res_c, err_seg * 3)])

navy = '#1D3557'
steel = '#457B9D'
c_hand = '#FF006E'
c_ant = '#FFA62B'
c_rec = '#F86624'
c_model = '#00B4D8'

fig, (ax1, ax2) = plt.subplots(2, 1, figsize=(13.39, 6.51), dpi=100, sharex=True)
fig.subplots_adjust(left=0.0503, right=0.8484, top=0.9396, bottom=0.0671, hspace=0.2016)

# Top: positions
ax1.plot(t_pos, pos, 'o', ms=3.0, color=navy, label='Data', zorder=2)


def draw_changes(ax, times, styles, color, label):
    for i, (x, ls) in enumerate(zip(times, styles)):
        if ls == '--':
            ax.plot([x, x], [change_lo, change_hi], '-', color=color, lw=1.5, alpha=0.15, zorder=3)
        ax.plot([x, x], [change_lo, change_hi], linestyle=ls, color=color, lw=1.5,
                marker='*', ms=5, label=label if i == 0 else None, zorder=3)


draw_changes(ax1, hand_t, hand_ls, c_hand, 'Handmade change')
draw_changes(ax1, ant_t, ant_ls, c_ant, 'Antenna change')
draw_changes(ax1, rec_t, rec_ls, c_rec, 'Receiver change')
ax1.plot(model_t, model_v, color=c_model, lw=1.6, label='Model', zorder=4)
ax1.plot([], [], '--', color='gray', lw=1, label='Discontinuity')

ax1.set_ylim(-9.33, 10.62)
ax1.set_ylabel('Position [cm]', fontsize=14)
ax1.set_title('KULU', fontsize=14, pad=10)
ax1.grid(True)
ax1.legend(loc='center left', bbox_to_anchor=(1, 0.5), fontsize=10.5)

# Bottom: residuals
ax2.errorbar(t_res, res, yerr=err, fmt='o', ms=2.8, color=navy, ecolor=steel,
             elinewidth=1.2, label='Residuals', zorder=2)
ax2.errorbar(wide_t, wide_res, yerr=wide_err, fmt='o', ms=2.8, color=navy, ecolor=steel,
             elinewidth=1.2, zorder=2)
ax2.set_ylim(-8.48, 4.49)
ax2.set_xlim(1996.363, 2018.069)
ax2.set_ylabel('Residuals [cm]', fontsize=14)
ax2.set_xlabel('Time [y]', fontsize=14)
ax2.grid(True)
ax2.legend(loc='center left', bbox_to_anchor=(1, 0.5), fontsize=10.5)

for ax in (ax1, ax2):
    ax.tick_params(labelsize=8)

fig.savefig('out.png', dpi=100)
